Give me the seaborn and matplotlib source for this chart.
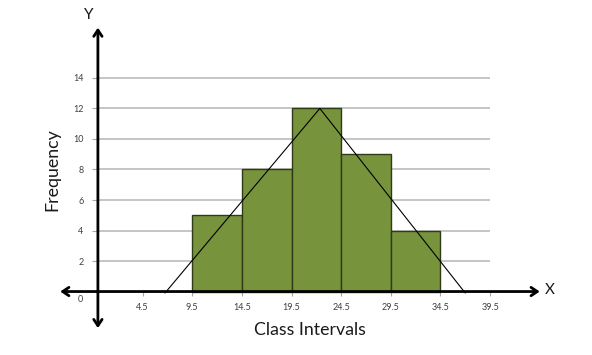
import matplotlib
matplotlib.use("Agg")
import matplotlib.pyplot as plt
import seaborn as sns
import numpy as np

# Data
class_edges = [9.5, 14.5, 19.5, 24.5, 29.5, 34.5]
frequencies = [5, 8, 12, 9, 4]
midpoints = [12, 17, 22, 27, 32]
curve_x = [6.75, 22.35, 37.0]
curve_y = [-0.1, 12, -0.1]
x_ticks = [4.5, 9.5, 14.5, 19.5, 24.5, 29.5, 34.5, 39.5]
x_tick_labels = ["4.5", "9.5", "14.5", "19.5", "24.5", "29.5", "34.5", "39.5"]
y_ticks = [2, 4, 6, 8, 10, 12, 14]
y_tick_labels = ["2", "4", "6", "8", "10", "12", "14"]

sns.set_style("white")
plt.rcParams['font.family'] = ['Lato', 'DejaVu Sans']

fig = plt.figure(figsize=(5.92, 3.55), dpi=100)
ax = fig.add_axes([0, 0, 1, 1])
ax.set_xlim(-9.86, 49.76)
ax.set_ylim(-4.16, 19.11)

# grid lines
ax.hlines(y_ticks, 0, 39.5, color="#c0c0c0", lw=1.3, zorder=1)

# histogram
sns.histplot(x=midpoints, weights=frequencies, bins=class_edges, ax=ax,
             color="#77933C", edgecolor="#2e3b15", linewidth=1.0, alpha=1, zorder=2)

# frequency curve
sns.lineplot(x=curve_x, y=curve_y, sort=False, ax=ax, color="black", lw=0.8, zorder=4)

# axes arrows
ax.annotate("", xy=(44.5, 0), xytext=(-3.8, 0),
            arrowprops=dict(arrowstyle="<->,head_length=0.45,head_width=0.3", lw=2, color="black",
                            shrinkA=0, shrinkB=0), zorder=5)
ax.annotate("", xy=(0, 17.3), xytext=(0, -2.4),
            arrowprops=dict(arrowstyle="<->,head_length=0.45,head_width=0.3", lw=2, color="black",
                            shrinkA=0, shrinkB=0), zorder=5)

for s in ax.spines.values():
    s.set_visible(False)
ax.spines['left'].set_position(('data', 0))
ax.spines['bottom'].set_position(('data', 0))

ax.set_xticks(x_ticks)
ax.set_xticklabels(x_tick_labels)
ax.set_yticks(y_ticks)
ax.set_yticklabels(y_tick_labels)
ax.tick_params(axis='x', direction='out', length=3, width=0.8, color="#a6a6a6",
               labelsize=6.5, labelcolor="#404040", pad=5, bottom=True)
ax.tick_params(axis='y', direction='out', length=4.3, width=0.8, color="#a6a6a6",
               labelsize=6.5, labelcolor="#404040", pad=6, left=True)
ax.set_xlabel("")
ax.set_ylabel("")

ax.text(-1.8, -0.5, "0", fontsize=6.5, color="#404040", ha="center", va="center")
ax.text(-0.9, 18.1, "Y", fontsize=11, color="#1a1a1a", ha="center", va="center")
ax.text(45.5, 0.1, "X", fontsize=11, color="#1a1a1a", ha="center", va="center")
ax.text(-4.6, 7.97, "Frequency", fontsize=12.8, color="#1a1a1a", rotation=90, ha="center", va="center")
ax.text(21.4, -2.5, "Class Intervals", fontsize=12.8, color="#1a1a1a", ha="center", va="center")

fig.savefig("out.png", dpi=100)
